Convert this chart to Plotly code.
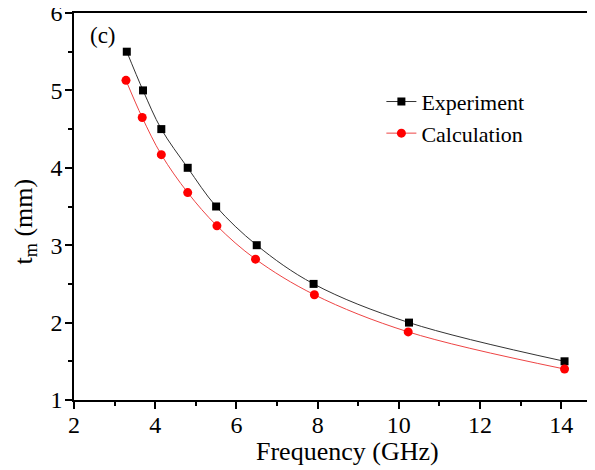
import plotly.graph_objects as go

freq_exp = [3.3, 3.7, 4.15, 4.8, 5.5, 6.5, 7.9, 10.25, 14.08]
tm_exp = [5.5, 5.0, 4.5, 4.0, 3.5, 3.0, 2.5, 2.0, 1.5]
freq_calc = [3.28, 3.68, 4.15, 4.8, 5.52, 6.47, 7.92, 10.23, 14.08]
tm_calc = [5.13, 4.65, 4.17, 3.68, 3.25, 2.82, 2.36, 1.88, 1.4]

font = "Liberation Serif, Times New Roman, serif"

fig = go.Figure()
fig.add_trace(go.Scatter(
    x=freq_exp, y=tm_exp, name="Experiment", mode="lines+markers",
    line=dict(color="#333333", width=1, shape="spline"),
    marker=dict(symbol="square", size=8, color="black"),
))
fig.add_trace(go.Scatter(
    x=freq_calc, y=tm_calc, name="Calculation", mode="lines+markers",
    line=dict(color="#ee4444", width=1, shape="spline"),
    marker=dict(symbol="circle", size=9, color="red"),
))

axis_common = dict(
    showline=True, linecolor="black", linewidth=1.5, showgrid=False, zeroline=False,
    ticks="outside", ticklen=7, tickwidth=1.5, tickcolor="black",
    tickfont=dict(family=font, size=24, color="black"),
    automargin=False, ticklabeloverflow="allow",
)

fig.update_xaxes(
    range=[2, 14.83], tickmode="array", tickvals=[2, 4, 6, 8, 10, 12, 14], mirror=True,
    minor=dict(ticks="outside", ticklen=4, tickwidth=1.5, tickcolor="black",
               tickmode="linear", tick0=3, dtick=1),
    ticklabelstandoff=-5,
    **axis_common,
)
fig.update_yaxes(
    range=[1, 6], tickmode="array", tickvals=[1, 2, 3, 4, 5, 6],
    minor=dict(ticks="outside", ticklen=4, tickwidth=1.5, tickcolor="black",
               tickmode="linear", tick0=1.5, dtick=0.5),
    ticklabelstandoff=-2,
    **axis_common,
)

# axis titles placed as annotations to match the reference positions
fig.add_annotation(
    text="Frequency (GHz)", x=0.524, y=-0.133, xref="paper", yref="paper", showarrow=False,
    font=dict(family=font, size=26, color="black"), xanchor="center", yanchor="middle",
)
fig.add_annotation(
    text="t<sub>m</sub> (mm)", x=-0.095, y=0.46, xref="paper", yref="paper", showarrow=False,
    textangle=-90, font=dict(family=font, size=26, color="black"),
    xanchor="center", yanchor="middle",
)
fig.add_annotation(
    text="(c)", x=0.056, y=0.943, xref="paper", yref="paper", showarrow=False,
    font=dict(family=font, size=23, color="black"), xanchor="center", yanchor="middle",
)

# the page body adds an 8px offset, so the figure is sized to fit the window
fig.update_layout(
    width=587, height=462,
    margin=dict(l=66, r=0, t=5, b=70),
    plot_bgcolor="white", paper_bgcolor="white",
    legend=dict(
        x=0.59, y=0.825, xanchor="left", yanchor="top",
        font=dict(family=font, size=22, color="black"),
        bgcolor="rgba(0,0,0,0)", tracegroupgap=0,
    ),
)

fig.write_html("out.html")
